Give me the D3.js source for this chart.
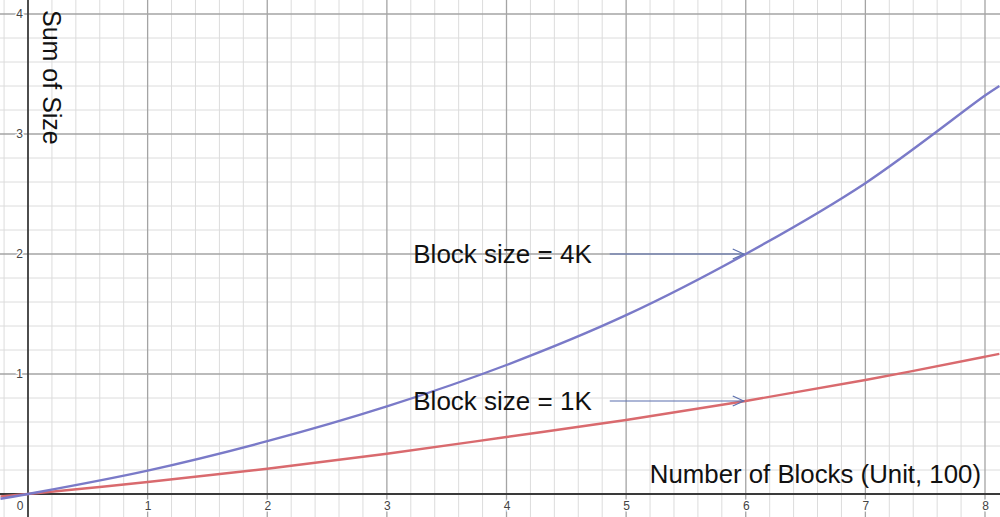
<!DOCTYPE html>
<html>
<head>
<meta charset="utf-8">
<script src="https://cdn.jsdelivr.net/npm/d3@7"></script>
<style>
  html, body { margin: 0; padding: 0; background: #fff; }
  svg { display: block; font-family: "Liberation Sans", Arial, sans-serif; }
</style>
</head>
<body>
<svg id="chart" width="1000" height="517"></svg>
<script>
// ---- data ----
const blocksX   = [-0.23, 0, 1, 2, 3, 4, 5, 6, 7, 8, 8.12];
const size4K    = [-0.04, 0, 0.195, 0.44, 0.73, 1.075, 1.49, 2.0, 2.59, 3.32, 3.40];
const size1K    = [-0.02, 0, 0.10, 0.21, 0.335, 0.475, 0.617, 0.775, 0.95, 1.144, 1.168];
const xTickLabels = ["0", "1", "2", "3", "4", "5", "6", "7", "8"];
const yTickLabels = ["1", "2", "3", "4"];
const annotLabels = ["Block size = 4K", "Block size = 1K"];
const annotX = [6, 6];
const annotY = [2.0, 0.775];
const xTitle = "Number of Blocks (Unit, 100)";
const yTitle = "Sum of Size";

// ---- scales ----
const W = 1000, H = 517;
const x = d3.scaleLinear().domain([0, 8]).range([28, 985]);
const y = d3.scaleLinear().domain([0, 4]).range([494, 14]);
const svg = d3.select("#chart");

// ---- grid ----
const xMin = x.invert(0), xMax = x.invert(W);
const yMin = y.invert(H), yMax = y.invert(0);
const minorX = d3.range(Math.ceil(xMin * 5), Math.floor(xMax * 5) + 1).map(i => i / 5).filter(v => Math.abs(v - Math.round(v)) > 1e-6);
const minorY = d3.range(Math.ceil(yMin * 5), Math.floor(yMax * 5) + 1).map(i => i / 5).filter(v => Math.abs(v - Math.round(v)) > 1e-6);
const majorX = d3.range(Math.ceil(xMin), Math.floor(xMax) + 1).filter(v => v !== 0);
const majorY = d3.range(Math.ceil(yMin), Math.floor(yMax) + 1).filter(v => v !== 0);

const grid = svg.append("g");
grid.selectAll(".mx").data(minorX).join("line")
  .attr("x1", d => x(d)).attr("x2", d => x(d)).attr("y1", 0).attr("y2", H)
  .attr("stroke", "#dcdcdc").attr("stroke-width", 1);
grid.selectAll(".my").data(minorY).join("line")
  .attr("y1", d => y(d)).attr("y2", d => y(d)).attr("x1", 0).attr("x2", W)
  .attr("stroke", "#dcdcdc").attr("stroke-width", 1);
grid.selectAll(".Mx").data(majorX).join("line")
  .attr("x1", d => x(d)).attr("x2", d => x(d)).attr("y1", 0).attr("y2", H)
  .attr("stroke", "#a4a4a4").attr("stroke-width", 1.3);
grid.selectAll(".My").data(majorY).join("line")
  .attr("y1", d => y(d)).attr("y2", d => y(d)).attr("x1", 0).attr("x2", W)
  .attr("stroke", "#a4a4a4").attr("stroke-width", 1.3);

// ---- axes lines ----
svg.append("line").attr("x1", 0).attr("x2", W).attr("y1", y(0)).attr("y2", y(0))
  .attr("stroke", "#3a3a3a").attr("stroke-width", 1.8);
svg.append("line").attr("x1", x(0)).attr("x2", x(0)).attr("y1", 0).attr("y2", H)
  .attr("stroke", "#3a3a3a").attr("stroke-width", 1.8);

// ---- tick labels ----
const xAxis = d3.axisBottom(x).tickValues(d3.range(1, 9)).tickSize(0).tickPadding(7)
  .tickFormat(d => xTickLabels[d]);
const gx = svg.append("g").attr("transform", `translate(0,${y(0)})`).call(xAxis);
const yAxis = d3.axisLeft(y).tickValues([1, 2, 3, 4]).tickSize(0).tickPadding(5)
  .tickFormat(d => yTickLabels[d - 1]);
const gy = svg.append("g").attr("transform", `translate(${x(0)},0)`).call(yAxis);
[gx, gy].forEach(g => {
  g.select(".domain").remove();
  g.selectAll("text").attr("font-size", 12).attr("fill", "#444")
    .attr("font-family", "'Liberation Sans', Arial, sans-serif")
    .attr("stroke", "#fff").attr("stroke-width", 3).attr("paint-order", "stroke");
});
svg.append("text").attr("x", x(0) - 8).attr("y", y(0) + 16)
  .attr("text-anchor", "middle").attr("font-size", 12).attr("fill", "#444")
  .attr("stroke", "#fff").attr("stroke-width", 3).attr("paint-order", "stroke")
  .text(xTickLabels[0]);

// ---- curves ----
const line = d3.line().x(d => x(d[0])).y(d => y(d[1])).curve(d3.curveCatmullRom.alpha(0.5));
svg.append("path").datum(blocksX.map((v, i) => [v, size1K[i]]))
  .attr("d", line).attr("fill", "none").attr("stroke", "#d96a6e").attr("stroke-width", 2.4);
svg.append("path").datum(blocksX.map((v, i) => [v, size4K[i]]))
  .attr("d", line).attr("fill", "none").attr("stroke", "#7a7ac8").attr("stroke-width", 2.4);

// ---- annotations ----
annotLabels.forEach((lab, i) => {
  const tx = x(annotX[i]) - 2, ty = y(annotY[i]);
  const sx = tx - 134;
  svg.append("line").attr("x1", sx).attr("x2", tx).attr("y1", ty).attr("y2", ty)
    .attr("stroke", "#5b6fae").attr("stroke-width", 1.1);
  svg.append("path")
    .attr("d", `M${tx - 11},${ty - 5} L${tx},${ty} L${tx - 11},${ty + 5}`)
    .attr("fill", "none").attr("stroke", "#5b6fae").attr("stroke-width", 1.1);
  svg.append("text").attr("x", sx - 18).attr("y", ty + 8.5)
    .attr("text-anchor", "end").attr("font-size", 26).attr("fill", "#111")
    .text(lab);
});

// ---- axis titles ----
svg.append("text").attr("x", 981).attr("y", 483).attr("text-anchor", "end")
  .attr("font-size", 25.8).attr("fill", "#111").text(xTitle);
svg.append("text").attr("transform", "translate(43,10) rotate(90)")
  .attr("text-anchor", "start").attr("font-size", 25).attr("fill", "#111").text(yTitle);
</script>
</body>
</html>
